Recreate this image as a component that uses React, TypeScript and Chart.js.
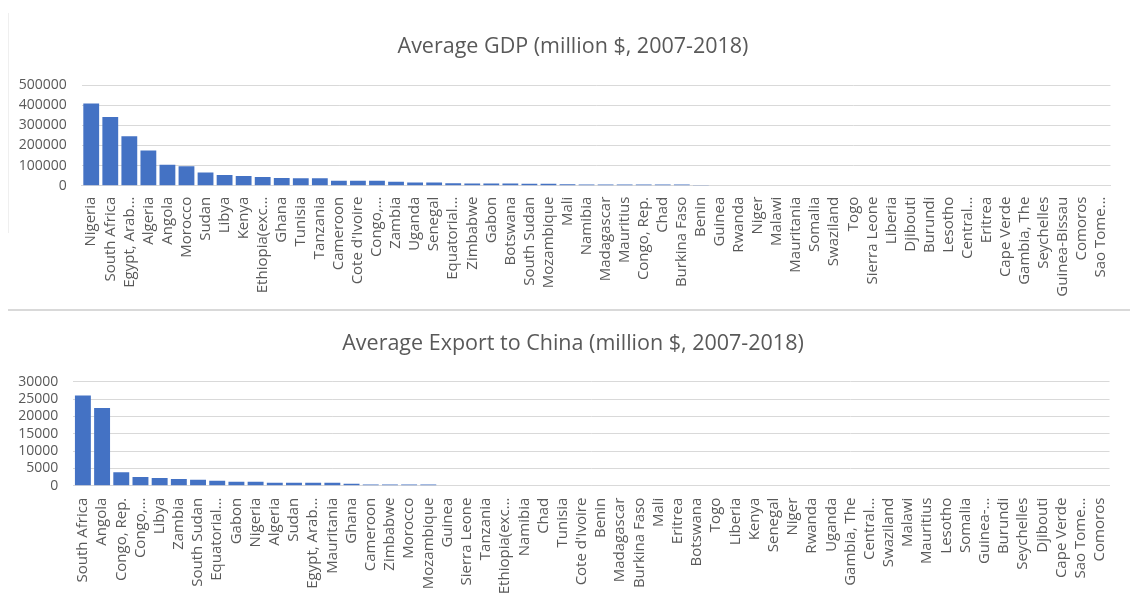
import React, { useEffect, useRef } from "react";
import { Chart, registerables } from "chart.js";

Chart.register(...registerables);

// ---------- Data ----------
const gdpCountries = [
  "Nigeria", "South Africa", "Egypt, Arab…", "Algeria", "Angola", "Morocco", "Sudan", "Libya", "Kenya",
  "Ethiopia(exc…", "Ghana", "Tunisia", "Tanzania", "Cameroon", "Cote d'Ivoire", "Congo,…", "Zambia",
  "Uganda", "Senegal", "Equatorial…", "Zimbabwe", "Gabon", "Botswana", "South Sudan", "Mozambique",
  "Mali", "Namibia", "Madagascar", "Mauritius", "Congo, Rep.", "Chad", "Burkina Faso", "Benin", "Guinea",
  "Rwanda", "Niger", "Malawi", "Mauritania", "Somalia", "Swaziland", "Togo", "Sierra Leone", "Liberia",
  "Djibouti", "Burundi", "Lesotho", "Central…", "Eritrea", "Cape Verde", "Gambia, The", "Seychelles",
  "Guinea-Bissau", "Comoros", "Sao Tome…",
];
const gdpValues = [
  408000, 341000, 245000, 175000, 104000, 96000, 66000, 53000, 48000,
  43000, 38000, 37500, 37000, 25000, 24500, 24000, 20000,
  16000, 15500, 12000, 11000, 10500, 10500, 10000, 10000,
  7000, 6500, 6500, 6000, 6000, 6000, 5500, 2900, 2850,
  2800, 2780, 2750, 2700, 2650, 2600, 2580, 2550, 2500,
  2480, 2450, 2400, 2380, 2350, 2320, 2300, 2280,
  2250, 2230, 2200,
];
const gdpTicks = [0, 100000, 200000, 300000, 400000, 500000];

const exportCountries = [
  "South Africa", "Angola", "Congo, Rep.", "Congo,…", "Libya", "Zambia", "South Sudan", "Equatorial…",
  "Gabon", "Nigeria", "Algeria", "Sudan", "Egypt, Arab…", "Mauritania", "Ghana", "Cameroon", "Zimbabwe",
  "Morocco", "Mozambique", "Guinea", "Sierra Leone", "Tanzania", "Ethiopia(exc…", "Namibia", "Chad",
  "Tunisia", "Cote d'Ivoire", "Benin", "Madagascar", "Burkina Faso", "Mali", "Eritrea", "Botswana", "Togo",
  "Liberia", "Kenya", "Senegal", "Niger", "Rwanda", "Uganda", "Gambia, The", "Central…", "Swaziland",
  "Malawi", "Mauritius", "Lesotho", "Somalia", "Guinea-…", "Burundi", "Seychelles", "Djibouti",
  "Cape Verde", "Sao Tome…", "Comoros",
];
const exportValues = [
  26000, 22400, 3850, 2500, 2200, 1900, 1730, 1450,
  1150, 1130, 880, 870, 860, 850, 590, 380, 370,
  350, 340, 160, 158, 157, 155, 154, 152,
  151, 150, 149, 148, 147, 146, 145, 144, 143,
  142, 141, 140, 139, 138, 137, 136, 136, 135,
  134, 134, 133, 133, 132, 132, 131, 131,
  130, 130, 130,
];
const exportTicks = [0, 5000, 10000, 15000, 20000, 25000, 30000];

const gdpTitle = "Average GDP (million $, 2007-2018)";
const exportTitle = "Average Export to China (million $, 2007-2018)";

// ---------- Styles ----------
const BAR = "#4472C4";
const TEXT = "#595959";
const GRID = "#d9d9d9";
const FONT = "'Open Sans', 'Noto Sans', sans-serif";
const TITLE_CENTER_X = 573;

type Opts = {
  labels: string[];
  values: number[];
  ticks: number[];
  title: string;
  titleBaseline: number;
  plotTop: number;
  plotLeft: number;
  xHeight: number;
  xPad: number;
};

function buildConfig(o: Opts): any {
  const max = o.ticks[o.ticks.length - 1];
  const titlePlugin = {
    id: "excelTitle",
    afterDraw(chart: any) {
      const ctx = chart.ctx;
      ctx.save();
      ctx.fillStyle = TEXT;
      ctx.font = `normal 21.5px ${FONT}`;
      ctx.textAlign = "center";
      ctx.textBaseline = "alphabetic";
      ctx.fillText(o.title, TITLE_CENTER_X, o.titleBaseline);
      ctx.restore();
    },
  };
  return {
    type: "bar",
    data: {
      labels: o.labels,
      datasets: [
        {
          data: o.values,
          backgroundColor: BAR,
          borderWidth: 0,
          barPercentage: 0.83,
          categoryPercentage: 1,
        },
      ],
    },
    plugins: [titlePlugin],
    options: {
      animation: false,
      responsive: false,
      devicePixelRatio: 1,
      layout: { padding: { left: 0, right: 7.3, top: o.plotTop, bottom: 0 } },
      plugins: {
        legend: { display: false },
        tooltip: { enabled: false },
        title: { display: false },
      },
      scales: {
        x: {
          grid: { display: false, drawTicks: false },
          border: { display: true, color: GRID, width: 1 },
          ticks: {
            autoSkip: false,
            minRotation: 90,
            maxRotation: 90,
            padding: o.xPad,
            color: TEXT,
            font: { family: FONT, size: 15 },
          },
          afterFit: (s: any) => {
            s.height = o.xHeight;
          },
        },
        y: {
          min: 0,
          max,
          grid: { color: GRID, lineWidth: 1, drawTicks: false },
          border: { display: false },
          ticks: {
            autoSkip: false,
            padding: 15,
            color: TEXT,
            font: { family: FONT, size: 14 },
            callback: (v: any) => String(v),
          },
          afterBuildTicks: (s: any) => {
            s.ticks = o.ticks.map((v) => ({ value: v }));
          },
          afterFit: (s: any) => {
            s.width = o.plotLeft;
          },
        },
      },
    },
  };
}

function BarChart(props: Opts & { width: number; height: number; top: number }) {
  const ref = useRef<HTMLCanvasElement | null>(null);
  useEffect(() => {
    if (!ref.current) return;
    const chart = new Chart(ref.current, buildConfig(props));
    return () => chart.destroy();
  }, []);
  return (
    <canvas
      ref={ref}
      width={props.width}
      height={props.height}
      style={{
        position: "absolute",
        left: 0,
        top: props.top,
        width: props.width,
        height: props.height,
      }}
    />
  );
}

export default function App() {
  return (
    <div
      style={{
        position: "absolute",
        left: 0,
        top: 0,
        width: 1130,
        height: 595,
        background: "#ffffff",
        overflow: "hidden",
      }}
    >
      <div
        style={{
          position: "absolute",
          left: 8,
          top: 13,
          width: 1,
          height: 220,
          background: "#efefef",
        }}
      />
      <BarChart
        labels={gdpCountries}
        values={gdpValues}
        ticks={gdpTicks}
        title={gdpTitle}
        titleBaseline={53.3}
        plotTop={85}
        plotLeft={81.7}
        xHeight={305 - 185.7}
        xPad={11}
        width={1130}
        height={305}
        top={0}
      />
      <div
        style={{
          position: "absolute",
          left: 8,
          top: 309,
          width: 1122,
          height: 2,
          background: GRID,
        }}
      />
      <BarChart
        labels={exportCountries}
        values={exportValues}
        ticks={exportTicks}
        title={exportTitle}
        titleBaseline={39}
        plotTop={70.7}
        plotLeft={73.3}
        xHeight={284 - 174.7}
        xPad={12}
        width={1130}
        height={284}
        top={311}
      />
    </div>
  );
}
